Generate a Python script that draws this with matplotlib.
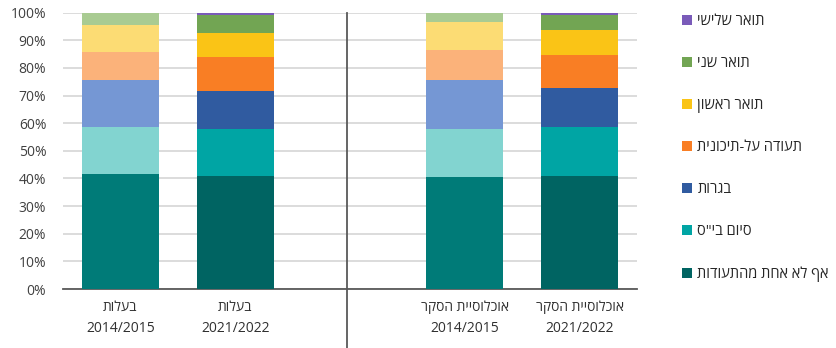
import numpy as np
import matplotlib.pyplot as plt
from matplotlib.patches import Patch
from matplotlib.transforms import blended_transform_factory

plt.rcParams['font.family'] = ['Open Sans', 'DejaVu Sans']
plt.rcParams['font.size'] = 10


def rtl(s):
    # matplotlib has no bidi support, so flip Hebrew lines by hand
    return '\n'.join(line if line[:1].isdigit() else line[::-1] for line in s.split('\n'))


categories = ['בעלות\n2014/2015', 'בעלות\n2021/2022',
              'אוכלוסיית הסקר\n2014/2015', 'אוכלוסיית הסקר\n2021/2022']
series = ['אף לא אחת מהתעודות', 'סיום בי"ס', 'בגרות', 'תעודה על-תיכונית',
          'תואר ראשון', 'תואר שני', 'תואר שלישי']

# shares in percent, one list per bar, bottom to top
owners_2015 = [41.5, 17.0, 17.3, 9.8, 10.1, 4.3, 0.0]
owners_2022 = [40.8, 17.0, 14.0, 12.0, 8.9, 6.4, 0.9]
survey_2015 = [40.4, 17.4, 18.0, 10.8, 10.2, 3.2, 0.0]
survey_2022 = [41.0, 17.8, 13.9, 11.9, 9.1, 5.4, 0.9]

dark_colors = ['#006462', '#00A5A4', '#305BA0', '#F97E24', '#FAC416', '#72A553', '#7A5BB9']
light_colors = ['#007B78', '#82D4D0', '#7597D4', '#FBB27A', '#FCDC74', '#A9CB92', '#B3A3DC']

bars = [owners_2015, owners_2022, survey_2015, survey_2022]
palettes = [light_colors, dark_colors, light_colors, dark_colors]
positions = [0, 1, 3, 4]

fig = plt.figure(figsize=(8.37, 3.48), dpi=100)
ax = fig.add_axes([0.0753, 0.1695, 0.6858, 0.794])

for pos, vals, cols in zip(positions, bars, palettes):
    bottom = 0
    for v, c in zip(vals, cols):
        ax.bar(pos, v, bottom=bottom, width=0.67, color=c, linewidth=0, zorder=3)
        bottom += v

ax.set_xlim(-0.5, 4.5)
ax.set_ylim(0, 100)
ax.set_yticks(np.arange(0, 101, 10))
ax.set_yticklabels([f'{t}%' for t in range(0, 101, 10)], color='#404040')
ax.yaxis.grid(True, color='#D9D9D9', linewidth=1.3, zorder=0)
ax.tick_params(axis='y', length=0, pad=12)
ax.set_xticks(positions)
ax.set_xticklabels([rtl(c) for c in categories], color='#303030', linespacing=1.5)
ax.tick_params(axis='x', length=0, pad=8)
for side in ['top', 'right', 'left']:
    ax.spines[side].set_visible(False)
ax.spines['bottom'].set_color('#595959')
ax.spines['bottom'].set_linewidth(1.3)

# divider between the two groups
trans = blended_transform_factory(ax.transData, ax.transAxes)
ax.plot([1.97, 1.97], [-0.215, 1.0], transform=trans, color='#595959',
        linewidth=1.3, clip_on=False, zorder=4)

handles = [Patch(facecolor=c, edgecolor='none') for c in dark_colors]
fig.legend(handles[::-1], [rtl(s) for s in series[::-1]], loc='upper left',
           bbox_to_anchor=(0.808, 0.977), frameon=False, handlelength=0.7,
           handleheight=0.7, handletextpad=0.35, labelspacing=1.86, borderaxespad=0,
           labelcolor='#262626', fontsize=10.5)

fig.savefig('out.png', dpi=100)
